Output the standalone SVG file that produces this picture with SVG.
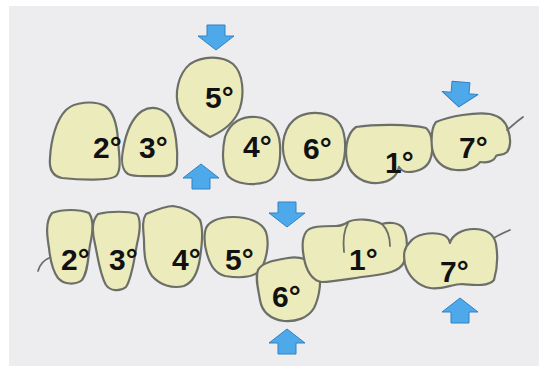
<svg xmlns="http://www.w3.org/2000/svg" width="547" height="371" viewBox="0 0 547 371">
  <style>
    .tooth { fill: #ecebbc; stroke: #6c6f68; stroke-width: 2.2; stroke-linejoin: round; }
    .line { fill: none; stroke: #6c6f68; stroke-width: 1.8; stroke-linecap: round; }
    .num { font-family: "Liberation Sans", Arial, sans-serif; font-weight: bold; font-size: 30px; fill: #111; }
    .arrow { fill: #4ea9ea; stroke: #2f82c4; stroke-width: 1; stroke-linejoin: round; }
  </style>
  <defs>
    <!-- downward block arrow, tip at (0,25) -->
    <path id="arrowDown" class="arrow" d="M -9,0 L 9,0 L 9,11 L 18,11 L 0,25 L -18,11 L -9,11 Z"/>
  </defs>

  <rect width="547" height="371" fill="#ffffff"/>
  <rect x="9" y="6" width="530" height="360" fill="#ededf0"/>

  <!-- upper arch -->
  <g id="upper-2">
    <path class="tooth" d="M 62,178 C 52,176 49,168 50,158 C 51,140 56,120 66,110 C 74,102 94,100 105,106 C 114,112 117,124 118,140 C 119,155 122,170 116,176 C 110,181 80,180 62,178 Z"/>
    <text class="num" x="93" y="158">2°</text>
  </g>
  <g id="upper-3">
    <path class="tooth" d="M 128,174 C 122,170 121,160 123,150 C 126,132 132,118 142,111 C 152,105 164,108 170,118 C 176,130 178,150 177,165 C 176,175 168,177 155,176 C 142,176 134,177 128,174 Z"/>
    <text class="num" x="139" y="158">3°</text>
  </g>
  <g id="upper-5">
    <path class="tooth" d="M 210,137 C 198,130 184,120 179,108 C 174,94 178,74 190,64 C 202,56 222,55 233,64 C 244,74 244,95 240,108 C 236,120 226,130 210,137 Z"/>
    <text class="num" x="205" y="108">5°</text>
  </g>
  <g id="upper-4">
    <path class="tooth" d="M 228,176 C 222,168 222,150 225,137 C 230,122 242,116 256,117 C 270,118 279,128 280,145 C 281,162 278,178 266,182 C 252,186 236,184 228,176 Z"/>
    <text class="num" x="243" y="157">4°</text>
  </g>
  <g id="upper-6">
    <path class="tooth" d="M 285,160 C 280,145 284,125 298,117 C 312,110 332,112 340,124 C 347,135 346,155 342,166 C 337,178 322,181 308,180 C 295,178 289,172 285,160 Z"/>
    <text class="num" x="303" y="159">6°</text>
  </g>
  <g id="upper-1">
    <path class="tooth" d="M 356,127 C 375,124 410,124 426,128 C 433,134 434,150 430,160 C 427,168 418,172 408,172 C 404,172 401,170 399,167 C 397,176 390,182 378,183 C 364,184 352,176 348,165 C 344,152 346,134 356,127 Z"/>
    <text class="num" x="385" y="173">1°</text>
  </g>
  <g id="upper-7">
    <path class="tooth" d="M 436,122 C 450,116 475,112 490,114 C 500,116 506,122 508,130 C 511,138 511,147 507,152 C 503,156 498,154 496,156 C 494,162 486,163 480,162 C 476,168 466,171 456,170 C 442,169 434,160 432,148 C 431,137 432,127 436,122 Z"/>
    <path class="line" d="M 507,130 C 512,126 516,122 523,117"/>
    <text class="num" x="459" y="158">7°</text>
  </g>

  <!-- lower arch -->
  <g id="lower-2">
    <path class="line" d="M 38,271 C 40,264 44,260 49,258"/>
    <path class="tooth" d="M 52,213 C 62,209 80,209 89,213 C 94,220 93,232 90,245 C 88,258 88,272 82,280 C 76,285 64,285 58,278 C 52,270 50,258 49,248 C 47,236 45,222 52,213 Z"/>
    <text class="num" x="61" y="270">2°</text>
  </g>
  <g id="lower-3">
    <path class="tooth" d="M 98,214 C 110,211 128,211 137,214 C 141,220 140,232 137,244 C 134,260 132,278 126,287 C 120,292 110,291 106,285 C 100,275 98,258 95,244 C 92,232 92,220 98,214 Z"/>
    <text class="num" x="109" y="270">3°</text>
  </g>
  <g id="lower-4">
    <path class="tooth" d="M 146,214 C 158,209 166,206 173,206 C 182,207 194,212 200,220 C 204,230 202,245 200,258 C 198,272 194,282 184,286 C 172,289 160,285 152,276 C 145,266 144,254 144,240 C 143,228 142,220 146,214 Z"/>
    <text class="num" x="172" y="270">4°</text>
  </g>
  <g id="lower-5">
    <path class="tooth" d="M 205,232 C 206,222 218,217 233,217 C 248,217 262,222 266,232 C 270,244 266,262 260,270 C 254,278 238,278 225,276 C 214,273 210,264 207,254 C 204,244 204,238 205,232 Z"/>
    <text class="num" x="225" y="270">5°</text>
  </g>
  <g id="lower-6">
    <path class="tooth" d="M 258,270 C 262,262 276,260 288,258 C 300,256 312,260 318,268 C 322,278 320,296 314,308 C 308,318 296,322 284,321 C 270,319 262,312 260,300 C 258,288 255,278 258,270 Z"/>
    <text class="num" x="272" y="307">6°</text>
  </g>
  <g id="lower-1">
    <path class="tooth" d="M 306,232 C 310,226 322,226 336,226 C 342,226 345,224 348,222 C 356,218 372,219 382,224 C 388,222 398,222 403,228 C 408,236 408,252 404,262 C 400,272 385,274 370,276 C 352,278 335,282 322,282 C 312,281 306,270 304,258 C 302,248 302,238 306,232 Z"/>
    <path class="line" d="M 348,223 C 344,230 343,242 344,252"/>
    <path class="line" d="M 382,224 C 388,230 390,238 390,246"/>
    <text class="num" x="349" y="270">1°</text>
  </g>
  <g id="lower-7">
    <path class="tooth" d="M 410,242 C 416,234 430,232 440,234 C 446,235 449,238 450,243 C 452,235 462,229 474,229 C 486,229 494,234 496,244 C 498,256 497,270 494,280 C 488,287 474,285 462,284 C 452,284 442,290 430,288 C 418,286 408,276 405,264 C 403,254 404,248 410,242 Z"/>
    <path class="line" d="M 494,238 C 500,234 505,232 510,230"/>
    <text class="num" x="440" y="282">7°</text>
  </g>

  <!-- force arrows -->
  <g id="arrows">
    <use href="#arrowDown" transform="translate(216,25)"/>
    <use href="#arrowDown" transform="translate(201,189) rotate(180)"/>
    <use href="#arrowDown" transform="translate(461,82) rotate(5)"/>
    <use href="#arrowDown" transform="translate(287,202)"/>
    <use href="#arrowDown" transform="translate(287,354) rotate(180)"/>
    <use href="#arrowDown" transform="translate(460,323) rotate(180)"/>
  </g>
</svg>
